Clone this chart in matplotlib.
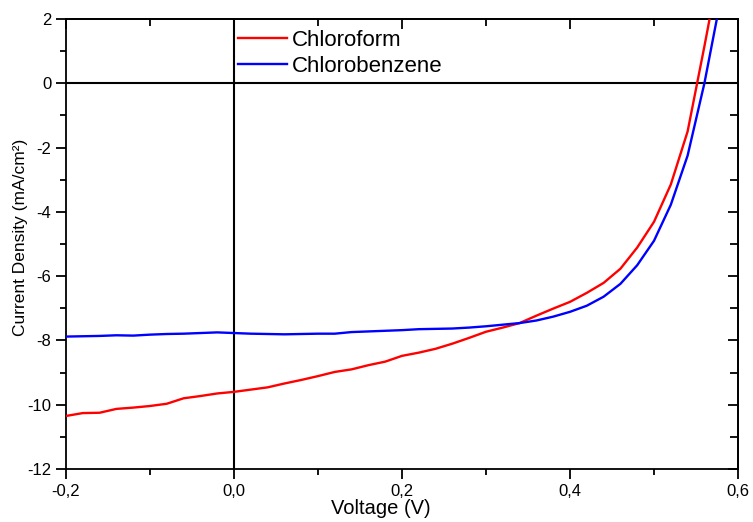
import matplotlib
matplotlib.use("Agg")
import matplotlib.pyplot as plt
from matplotlib.ticker import MultipleLocator, FuncFormatter

plt.rcParams["font.family"] = ["Liberation Sans", "DejaVu Sans"]
plt.rcParams["axes.unicode_minus"] = False

voltage = [-0.20, -0.18, -0.16, -0.14, -0.12, -0.10, -0.08, -0.06, -0.04, -0.02,
           0.00, 0.02, 0.04, 0.06, 0.08, 0.10, 0.12, 0.14, 0.16, 0.18,
           0.20, 0.22, 0.24, 0.26, 0.28, 0.30, 0.32, 0.34, 0.36, 0.38,
           0.40, 0.42, 0.44, 0.46, 0.48, 0.50, 0.52, 0.54, 0.56, 0.58]

chloroform = [-10.35, -10.26, -10.25, -10.13, -10.09, -10.04, -9.97, -9.80, -9.73, -9.65,
              -9.60, -9.53, -9.46, -9.34, -9.23, -9.11, -8.98, -8.90, -8.77, -8.66,
              -8.48, -8.38, -8.26, -8.10, -7.92, -7.73, -7.60, -7.46, -7.23, -7.01,
              -6.80, -6.52, -6.21, -5.77, -5.11, -4.31, -3.15, -1.50, 1.15, 3.90]

chlorobenzene = [-7.88, -7.87, -7.86, -7.84, -7.85, -7.82, -7.80, -7.79, -7.77, -7.75,
                 -7.77, -7.79, -7.80, -7.81, -7.80, -7.79, -7.79, -7.74, -7.72, -7.70,
                 -7.68, -7.65, -7.64, -7.63, -7.60, -7.56, -7.51, -7.46, -7.38, -7.26,
                 -7.11, -6.92, -6.64, -6.24, -5.66, -4.90, -3.78, -2.25, 0.00, 2.70]

fig = plt.figure(figsize=(7.53, 5.22), dpi=100)
ax = fig.add_axes([66 / 753, 1 - 469 / 522, 672 / 753, 450 / 522])

ax.axhline(0, color="black", linewidth=1.5, zorder=1)
ax.axvline(0, color="black", linewidth=1.5, zorder=1)
ax.plot(voltage, chloroform, color="#ff0000", linewidth=1.7, label="Chloroform", zorder=3)
ax.plot(voltage, chlorobenzene, color="#0000ff", linewidth=1.7, label="Chlorobenzene", zorder=3)

ax.set_xlim(-0.2, 0.6)
ax.set_ylim(-12, 2)

for s in ax.spines.values():
    s.set_linewidth(1.3)

comma = FuncFormatter(lambda v, p: f"{v:.1f}".replace(".", ","))
ax.xaxis.set_major_locator(MultipleLocator(0.2))
ax.xaxis.set_minor_locator(MultipleLocator(0.1))
ax.xaxis.set_major_formatter(comma)
ax.yaxis.set_major_locator(MultipleLocator(2))
ax.yaxis.set_minor_locator(MultipleLocator(1))
ax.yaxis.set_major_formatter(FuncFormatter(lambda v, p: f"{v:.0f}"))
ax.tick_params(which="major", direction="out", length=7, width=1.3, labelsize=12)
ax.tick_params(which="minor", direction="out", length=4, width=1.3)

# mirrored axes with inward ticks (Origin style)
top = ax.secondary_xaxis("top")
top.xaxis.set_major_locator(MultipleLocator(0.2))
top.xaxis.set_minor_locator(MultipleLocator(0.1))
top.tick_params(which="major", direction="in", length=7, width=1.3, labeltop=False)
top.tick_params(which="minor", direction="in", length=5, width=1.3)
right = ax.secondary_yaxis("right")
right.yaxis.set_major_locator(MultipleLocator(2))
right.yaxis.set_minor_locator(MultipleLocator(1))
right.tick_params(which="major", direction="in", length=7, width=1.3, labelright=False)
right.tick_params(which="minor", direction="in", length=6, width=1.3)
top.spines["top"].set_linewidth(1.3)
right.spines["right"].set_linewidth(1.3)

ax.set_xlabel("Voltage (V)", fontsize=14.5, va="top")
ax.xaxis.set_label_coords(0.469, -0.066)
ax.set_ylabel("Current Density (mA/cm²)", fontsize=12.5)
ax.yaxis.set_label_coords(-0.057, 0.515)

ax.legend(loc="upper left", bbox_to_anchor=(0.236, 1.005), frameon=False, fontsize=16,
          handlelength=2.2, handletextpad=0.25, labelspacing=0.2, borderaxespad=0.2)

plt.savefig("out.png", dpi=100)
